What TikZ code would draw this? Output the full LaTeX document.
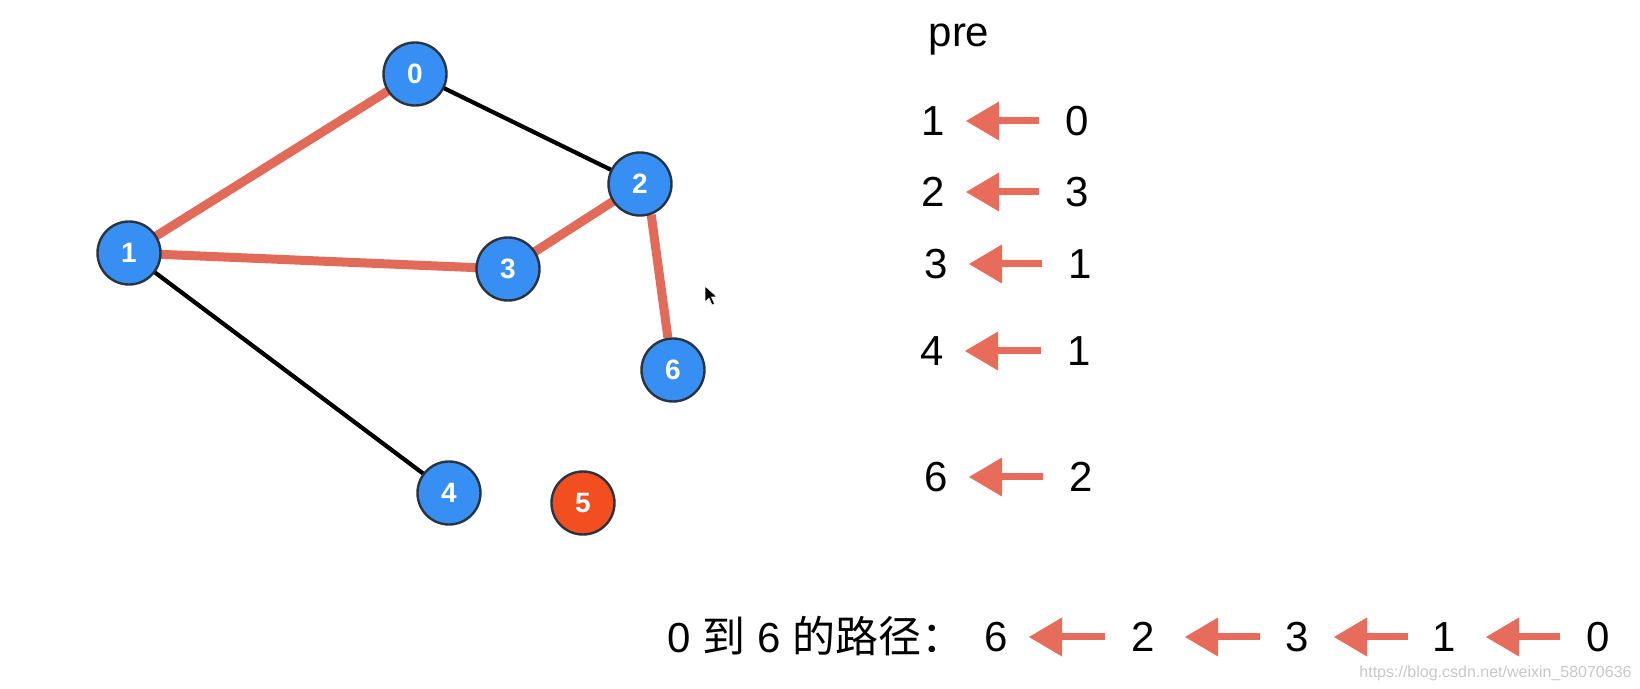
\documentclass[tikz,border=0pt]{standalone}
\usepackage{fontspec}
\setmainfont{Liberation Sans}
\newfontfamily\cjk{Noto Sans CJK SC}
\usetikzlibrary{arrows.meta}
\pgfdeclarelayer{bg}
\pgfsetlayers{bg,main}
\definecolor{nodeblue}{RGB}{56,143,243}
\definecolor{nodered}{RGB}{243,78,32}
\definecolor{nodeedge}{RGB}{42,52,64}
\definecolor{hl}{RGB}{226,106,88}
\definecolor{arr}{RGB}{231,108,92}
\definecolor{wmgray}{RGB}{200,200,200}
\begin{document}
\begin{tikzpicture}[x=0.5pt,y=-0.5pt,
  vtx/.style={circle, draw=nodeedge, line width=1.2pt, fill=nodeblue, minimum size=31.5pt,
    inner sep=0pt, text=white, font=\fontsize{14}{14}\selectfont\bfseries},
  vtxred/.style={vtx, fill=nodered},
  plainedge/.style={line width=2.1pt, black},
  hledge/.style={line width=4.5pt, hl},
  dig/.style={font=\fontsize{21}{21}\selectfont, inner sep=0pt},
  parr/.style={arr, line width=3.5pt,
    -{Triangle[length=16.5pt,width=19.5pt,line width=0pt]},
    shorten >=16.5pt, shorten <=19pt}
]
\useasboundingbox (0,0) rectangle (1640,689);

% graph vertices
\node[vtx] (n0) at (415,74) {0};
\node[vtx] (n1) at (129,253) {1};
\node[vtx] (n2) at (640,184) {2};
\node[vtx] (n3) at (508,269) {3};
\node[vtx] (n4) at (449,493) {4};
\node[vtxred] (n5) at (583,503) {5};
\node[vtx] (n6) at (673,370) {6};

\begin{pgfonlayer}{bg}
  \fill[white] (0,0) rectangle (1640,689);
  \draw[plainedge] (n0.center) -- (n2.center);
  \draw[plainedge] (n1.center) -- (n4.center);
  \draw[hledge] (n1.center) -- (n0.center);
  \draw[hledge] (n1.center) -- (n3.center);
  \draw[hledge] (n3.center) -- (n2.center);
  \draw[hledge] (n2.290) -- (n6.99);
\end{pgfonlayer}

% mouse cursor
\fill[black, draw=white, line width=0.3pt] (705,286) -- (705,302) -- (709,298) -- (712,305) -- (714.5,304) -- (711.5,297) -- (717,297) -- cycle;

% pre table
\node[font=\fontsize{21}{21}\selectfont, anchor=base, inner sep=0pt] (pre) at (959,47) {pre};
\node[dig] (a1) at (933,121) {1}; \node[dig] (b1) at (1077,121) {0};
\node[dig] (a2) at (933,192) {2}; \node[dig] (b2) at (1077,192) {3};
\node[dig] (a3) at (936,264) {3}; \node[dig] (b3) at (1080,264) {1};
\node[dig] (a4) at (932,351) {4}; \node[dig] (b4) at (1079,351) {1};
\node[dig] (a6) at (936,477) {6}; \node[dig] (b6) at (1081,477) {2};
\draw[parr] (b1.center) -- (a1.center);
\draw[parr] (b2.center) -- (a2.center);
\draw[parr] (b3.center) -- (a3.center);
\draw[parr] (b4.center) -- (a4.center);
\draw[parr] (b6.center) -- (a6.center);

% path line
\node[anchor=base west, inner sep=0pt] (lbl) at (667,653)
  {\fontsize{21}{21}\selectfont 0 {\cjk\fontsize{21.5}{21.5}\selectfont 到} 6 {\cjk\fontsize{21.5}{21.5}\selectfont 的路径：}};
\node[dig] (p6) at (996,637) {6};
\node[dig] (p2) at (1143,637) {2};
\node[dig] (p3) at (1297,637) {3};
\node[dig] (p1) at (1444,637) {1};
\node[dig] (p0) at (1598,637) {0};
\draw[parr] (p2.center) -- (p6.center);
\draw[parr, shorten >=21pt, shorten <=18.5pt] (p3.center) -- (p2.center);
\draw[parr, shorten >=18.5pt, shorten <=18pt] (p1.center) -- (p3.center);
\draw[parr, shorten >=21pt, shorten <=19pt] (p0.center) -- (p1.center);

% watermark
\node[anchor=base east, inner sep=0pt, text=wmgray, font=\fontsize{8}{8}\selectfont] (wm) at (1632,677) {https://blog.csdn.net/weixin\_58070636};
\end{tikzpicture}
\end{document}
